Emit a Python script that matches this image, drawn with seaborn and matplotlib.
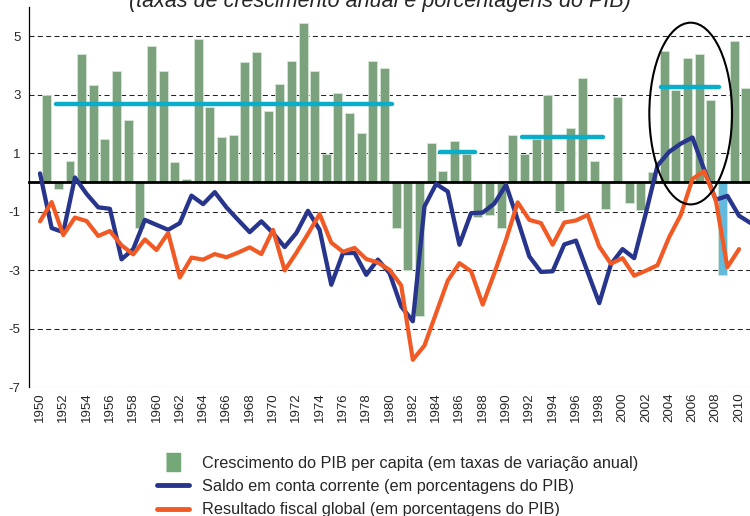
import numpy as np
import pandas as pd
import seaborn as sns
import matplotlib.pyplot as plt
from matplotlib.patches import Ellipse
from matplotlib.lines import Line2D

# Data
years = list(range(1950, 2011))
gdp_growth = [3.01, -0.23, 0.75, 4.39, 3.32, 1.49, 3.82, 2.14, -1.57, 4.66,
              3.81, 0.70, 0.11, 4.91, 2.60, 1.55, 1.62, 4.11, 4.48, 2.43,
              3.36, 4.16, 5.45, 3.83, 0.99, 3.05, 2.37, 1.69, 4.17, 3.92,
              -1.55, -3.01, -4.56, 1.36, 0.39, 1.42, 0.99, -1.18, -1.12, -1.57,
              1.61, 0.99, 1.50, 2.99, -0.99, 1.87, 3.59, 0.75, -0.91, 2.91,
              -0.71, -0.93, 0.36, 4.51, 3.17, 4.26, 4.39, 2.84, -3.16, 4.84,
              3.24]
highlight_year = 2008

ca_years = list(range(1950, 2012))
current_account = [0.31, -1.56, -1.70, 0.17, -0.39, -0.85, -0.90, -2.63, -2.28, -1.28,
                   -1.45, -1.62, -1.39, -0.45, -0.74, -0.33, -0.85, -1.28, -1.70, -1.33,
                   -1.73, -2.21, -1.73, -0.97, -1.62, -3.50, -2.42, -2.41, -3.16, -2.64,
                   -3.10, -4.24, -4.75, -0.82, -0.05, -0.31, -2.13, -1.05, -1.03, -0.72,
                   -0.08, -1.28, -2.53, -3.06, -3.04, -2.12, -1.99, -3.06, -4.13, -2.80,
                   -2.28, -2.59, -1.05, 0.58, 1.05, 1.33, 1.54, 0.45, -0.59, -0.46,
                   -1.14, -1.39]

fiscal_result = [-1.33, -0.67, -1.80, -1.20, -1.32, -1.83, -1.66, -2.15, -2.46, -1.95,
                 -2.31, -1.73, -3.25, -2.57, -2.64, -2.45, -2.56, -2.40, -2.22, -2.45,
                 -1.62, -3.01, -2.41, -1.76, -1.08, -2.06, -2.37, -2.24, -2.62, -2.74,
                 -2.99, -3.52, -6.07, -5.58, -4.47, -3.36, -2.76, -3.04, -4.18, -3.10,
                 -1.96, -0.68, -1.28, -1.39, -2.13, -1.37, -1.30, -1.11, -2.19, -2.78,
                 -2.59, -3.19, -3.02, -2.83, -1.87, -1.11, 0.12, 0.39, -0.60, -2.90,
                 -2.28]

# period averages of GDP per capita growth
avg_start = [1951.4, 1984.35, 1991.4, 2003.3]
avg_end = [1980.25, 1987.35, 1998.35, 2008.25]
avg_value = [2.70, 1.06, 1.57, 3.28]

labels = ["Crescimento do PIB per capita (em taxas de variação anual)",
          "Saldo em conta corrente (em porcentagens do PIB)",
          "Resultado fiscal global (em porcentagens do PIB)"]

green = "#74a877"
light_blue = "#4fc3f0"
navy = "#28358c"
orange = "#f15a24"
cyan = "#0aaecb"

sns.set_style("white")
plt.rcParams['font.family'] = ['Liberation Sans', 'DejaVu Sans']
plt.rcParams['axes.unicode_minus'] = False

fig = plt.figure(figsize=(7.5, 5.16), dpi=100)
ax = fig.add_axes([29 / 750, 1 - 387 / 516, 1 - 29 / 750, (387 - 7.2) / 516])

bars = pd.DataFrame({
    "pos": np.array(years) + 0.575,
    "growth": gdp_growth,
    "grupo": ["destaque" if y == highlight_year else "normal" for y in years],
})
sns.barplot(data=bars, x="pos", y="growth", hue="grupo",
            palette={"normal": green, "destaque": light_blue},
            native_scale=True, width=0.77, dodge=False, legend=False,
            edgecolor="#d4e6d4", linewidth=0.6, ax=ax, zorder=1)

for s, e, v in zip(avg_start, avg_end, avg_value):
    ax.plot([s, e], [v, v], color=cyan, lw=3.2, solid_capstyle="round", zorder=3)

sns.lineplot(x=ca_years, y=current_account, color=navy, lw=3.1, ax=ax, zorder=4)
sns.lineplot(x=years, y=fiscal_result, color=orange, lw=3.0, ax=ax, zorder=4)
for ln in ax.lines:
    ln.set_solid_joinstyle("round")

ax.add_patch(Ellipse((2005.85, 2.36), 7.1, 6.22, fill=False, ec="black", lw=1.5, zorder=5))

ax.set_xlim(1949.056, 2010.94)
ax.set_ylim(-7, 6)
ax.set_xlabel("")
ax.set_ylabel("")

# y axis and dashed grid
ax.set_yticks([-7, -5, -3, -1, 1, 3, 5])
ax.yaxis.grid(True, ls=(0, (4.8, 3.2)), color="#222222", lw=0.75)
ax.xaxis.grid(False)
ax.set_axisbelow(True)
ax.tick_params(axis="y", direction="out", length=3, width=0.8, color="black",
               labelsize=9.5, pad=3)

# zero line with small category ticks
ax.spines["top"].set_visible(False)
ax.spines["right"].set_visible(False)
ax.spines["left"].set_color("black")
ax.spines["left"].set_linewidth(0.9)
ax.spines["bottom"].set_position(("data", 0))
ax.spines["bottom"].set_color("black")
ax.spines["bottom"].set_linewidth(2)
ax.set_xticks(years)
ax.tick_params(axis="x", direction="out", length=2.5, width=0.8, color="black",
               labelbottom=False)

# year labels at the bottom
sec = ax.secondary_xaxis("bottom")
sec.set_xticks(range(1950, 2011, 2))
sec.tick_params(length=0, labelrotation=90, labelsize=9.5, pad=4)
sec.spines["bottom"].set_visible(False)

fig.text(0.507, 1 - 6.5 / 516, "(taxas de crescimento anual e porcentagens do PIB)",
         ha="center", va="baseline", style="italic", fontsize=15.5)

handles = [
    Line2D([], [], ls="", marker=[(-0.38, -0.5), (0.38, -0.5), (0.38, 0.5), (-0.38, 0.5)],
           markersize=12.5, color=green),
    Line2D([], [], color=navy, lw=3.5, solid_capstyle="round"),
    Line2D([], [], color=orange, lw=3.5, solid_capstyle="round"),
]
fig.legend(handles, labels, loc="upper left", bbox_to_anchor=(157 / 750, 1 - 456 / 516),
           frameon=False, fontsize=11.7, handlelength=1.95, handletextpad=0.8,
           labelspacing=0.5, borderpad=0, borderaxespad=0)

fig.savefig("out.png", dpi=100)
